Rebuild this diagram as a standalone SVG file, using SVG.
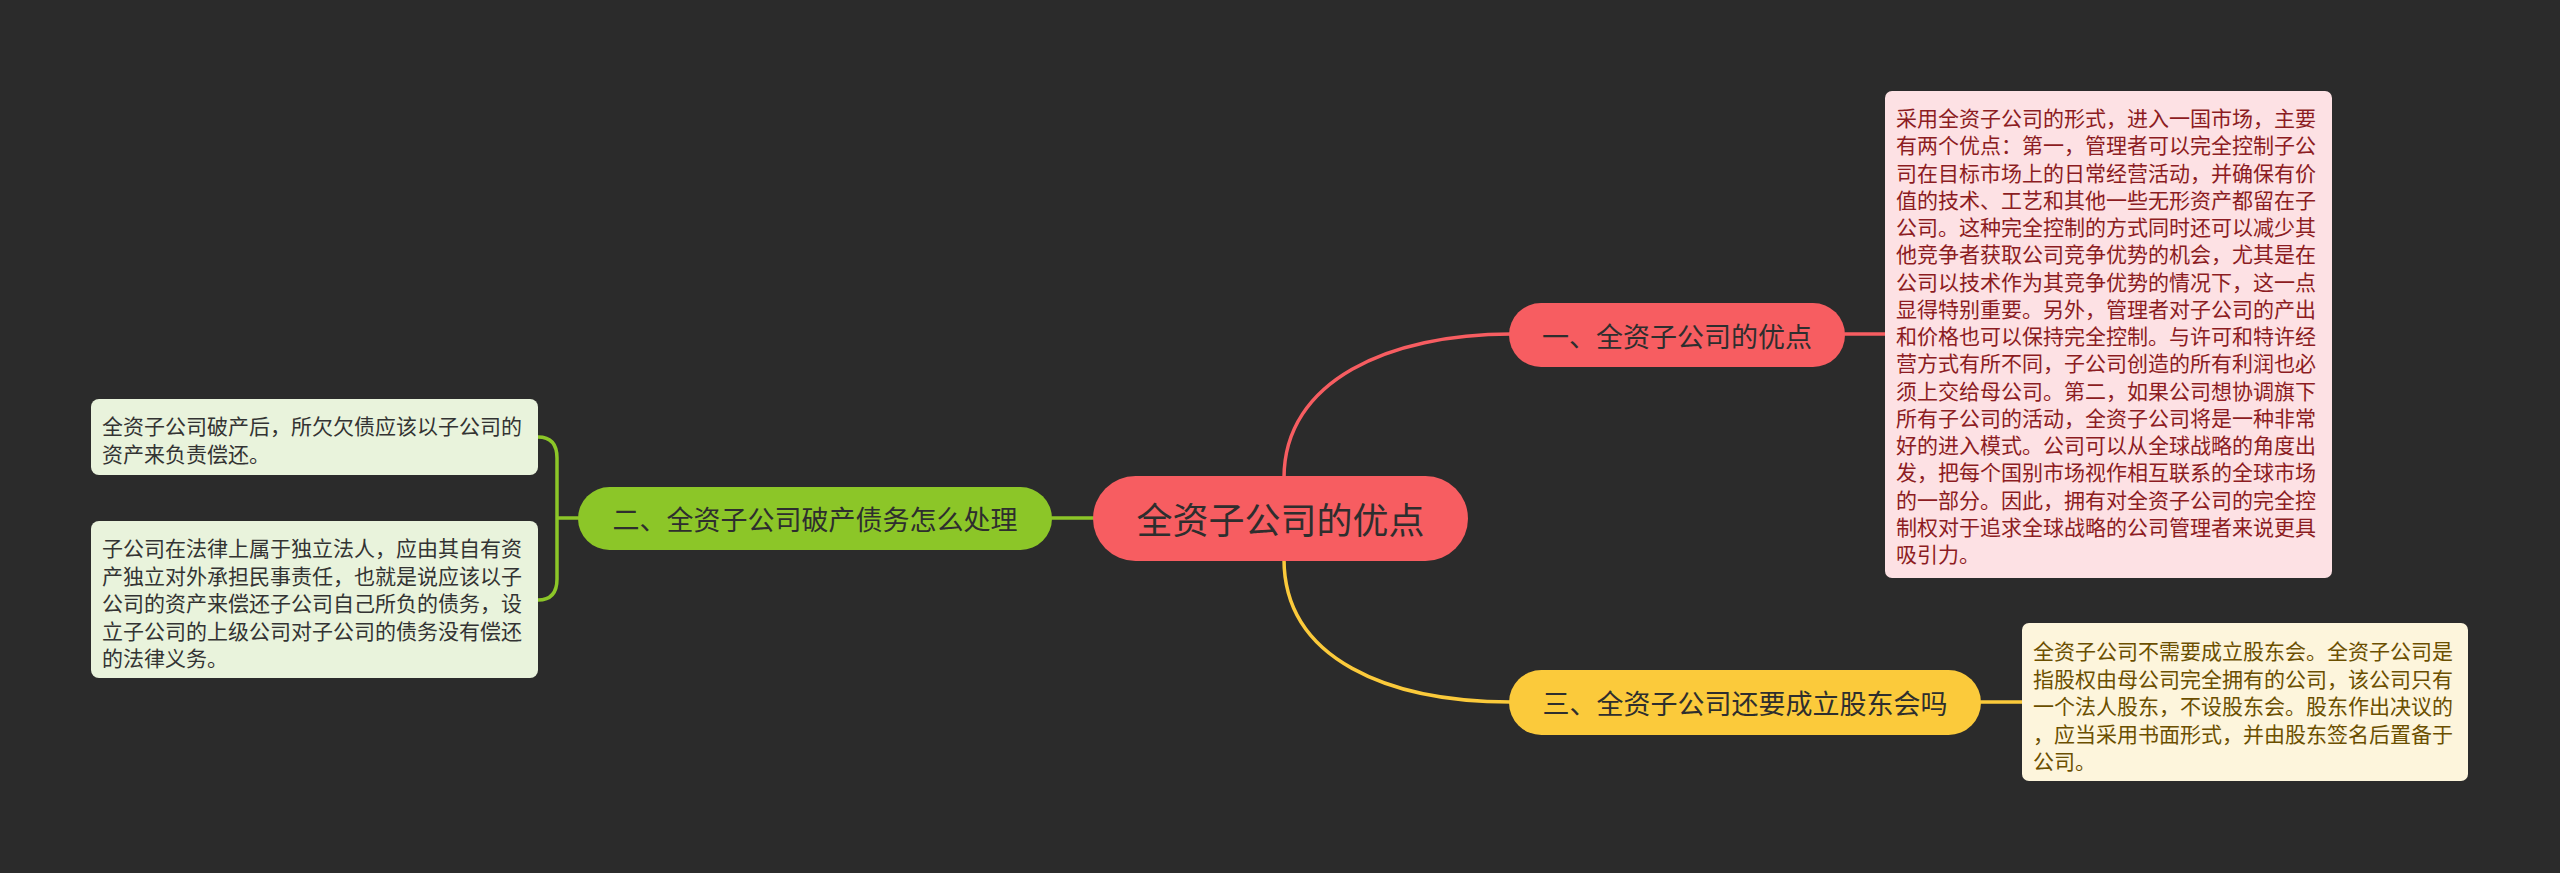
<svg xmlns="http://www.w3.org/2000/svg" width="2560" height="873" viewBox="0 0 2560 873">
<style>
.t{font-family:"Noto Sans CJK SC","Noto Sans",sans-serif;dominant-baseline:central}
.n{font-size:27px;fill:#2e2e2e;text-anchor:middle}
.c{font-size:36px;fill:#2e2e2e;text-anchor:middle}
.s{font-size:21px}
.red{fill:#8c1c22}
.yel{fill:#6b4f00}
.grn{fill:#333}
.conn{fill:none;stroke-width:3.5;stroke-linecap:round}
</style>
<rect x="0" y="0" width="2560" height="873" fill="#2b2b2b"/>
<g id="connectors">
<path class="conn" stroke="#f75d61" d="M1284,478 C1284,380 1390,334 1511,334"/>
<path class="conn" stroke="#fbca3b" d="M1284,559 C1284,660 1390,702 1511,702"/>
<path class="conn" stroke="#8cc628" d="M1052,518 L1093,518"/>
<path class="conn" stroke="#f75d61" d="M1845,334 L1886,334"/>
<path class="conn" stroke="#fbca3b" d="M1981,702 L2023,702"/>
<path class="conn" stroke="#8cc628" d="M578,518 L557,518 M538,437 Q557,437 557,458 L557,579 Q557,600 538,600"/>
</g>
<g id="center">
<rect x="1093" y="476" width="375" height="85" rx="42.5" fill="#f75d61"/>
<text class="t c" x="1280.5" y="518">全资子公司的优点</text>
</g>
<g id="node1">
<rect x="1509" y="303" width="336" height="64" rx="32" fill="#f75d61"/>
<text class="t n" x="1677" y="335">一、全资子公司的优点</text>
</g>
<g id="node2">
<rect x="578" y="487" width="474" height="63" rx="31.5" fill="#8cc628"/>
<text class="t n" x="815" y="518">二、全资子公司破产债务怎么处理</text>
</g>
<g id="node3">
<rect x="1509" y="670" width="472" height="65" rx="32.5" fill="#fbca3b"/>
<text class="t n" x="1745" y="702">三、全资子公司还要成立股东会吗</text>
</g>
<g id="detail1">
<rect x="1885" y="91" width="447" height="487" rx="7" fill="#fde1e4"/>
<text class="t s red" x="1896">
<tspan x="1896" y="117">采用全资子公司的形式，进入一国市场，主要</tspan>
<tspan x="1896" y="144.25">有两个优点：第一，管理者可以完全控制子公</tspan>
<tspan x="1896" y="171.5">司在目标市场上的日常经营活动，并确保有价</tspan>
<tspan x="1896" y="198.75">值的技术、工艺和其他一些无形资产都留在子</tspan>
<tspan x="1896" y="226">公司。这种完全控制的方式同时还可以减少其</tspan>
<tspan x="1896" y="253.25">他竞争者获取公司竞争优势的机会，尤其是在</tspan>
<tspan x="1896" y="280.5">公司以技术作为其竞争优势的情况下，这一点</tspan>
<tspan x="1896" y="307.75">显得特别重要。另外，管理者对子公司的产出</tspan>
<tspan x="1896" y="335">和价格也可以保持完全控制。与许可和特许经</tspan>
<tspan x="1896" y="362.25">营方式有所不同，子公司创造的所有利润也必</tspan>
<tspan x="1896" y="389.5">须上交给母公司。第二，如果公司想协调旗下</tspan>
<tspan x="1896" y="416.75">所有子公司的活动，全资子公司将是一种非常</tspan>
<tspan x="1896" y="444">好的进入模式。公司可以从全球战略的角度出</tspan>
<tspan x="1896" y="471.25">发，把每个国别市场视作相互联系的全球市场</tspan>
<tspan x="1896" y="498.5">的一部分。因此，拥有对全资子公司的完全控</tspan>
<tspan x="1896" y="525.75">制权对于追求全球战略的公司管理者来说更具</tspan>
<tspan x="1896" y="553">吸引力。</tspan>
</text>
</g>
<g id="detail3">
<rect x="2022" y="623" width="446" height="158" rx="7" fill="#fdf5dc"/>
<text class="t s yel">
<tspan x="2033" y="650">全资子公司不需要成立股东会。全资子公司是</tspan>
<tspan x="2033" y="677.5">指股权由母公司完全拥有的公司，该公司只有</tspan>
<tspan x="2033" y="705">一个法人股东，不设股东会。股东作出决议的</tspan>
<tspan x="2033" y="732.5">，应当采用书面形式，并由股东签名后置备于</tspan>
<tspan x="2033" y="760">公司。</tspan>
</text>
</g>
<g id="detail2a">
<rect x="91" y="399" width="447" height="76" rx="8" fill="#e9f3dc"/>
<text class="t s grn">
<tspan x="102" y="425">全资子公司破产后，所欠欠债应该以子公司的</tspan>
<tspan x="102" y="453">资产来负责偿还。</tspan>
</text>
</g>
<g id="detail2b">
<rect x="91" y="521" width="447" height="157" rx="8" fill="#e9f3dc"/>
<text class="t s grn">
<tspan x="102" y="547">子公司在法律上属于独立法人，应由其自有资</tspan>
<tspan x="102" y="574.5">产独立对外承担民事责任，也就是说应该以子</tspan>
<tspan x="102" y="602">公司的资产来偿还子公司自己所负的债务，设</tspan>
<tspan x="102" y="629.5">立子公司的上级公司对子公司的债务没有偿还</tspan>
<tspan x="102" y="657">的法律义务。</tspan>
</text>
</g>
</svg>
